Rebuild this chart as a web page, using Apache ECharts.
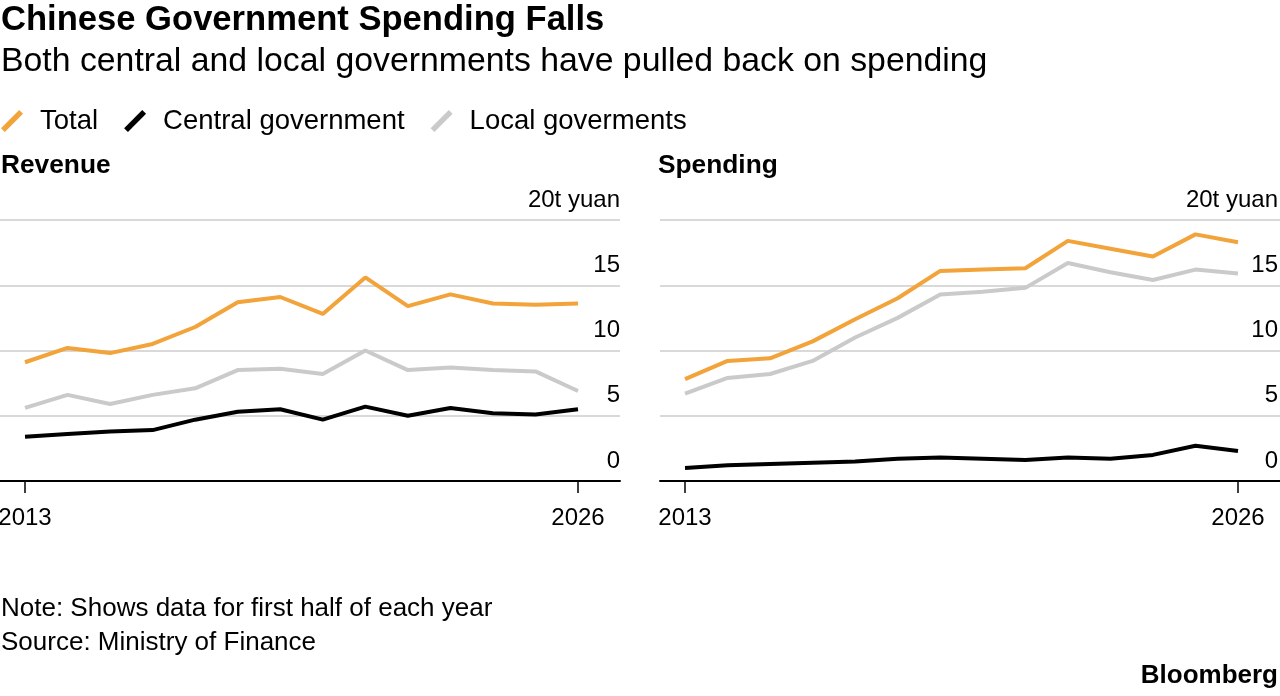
<!DOCTYPE html>
<html>
<head>
<meta charset="utf-8">
<title>Chinese Government Spending Falls</title>
<script src="https://cdn.jsdelivr.net/npm/echarts@6/dist/echarts.min.js"></script>
<style>
  html, body { margin: 0; padding: 0; background: #fff; }
  #chart { width: 1280px; height: 696px; }
</style>
</head>
<body>
<div id="chart"></div>
<script>
// Years (first half of each year)
const years = [2013, 2014, 2015, 2016, 2017, 2018, 2019, 2020, 2021, 2022, 2023, 2024, 2025, 2026];

// Revenue, trillion yuan
const revenueTotal   = [9.1, 10.2, 9.8, 10.5, 11.8, 13.7, 14.1, 12.8, 15.6, 13.4, 14.3, 13.6, 13.5, 13.6];
const revenueCentral = [3.4, 3.6, 3.8, 3.9, 4.7, 5.3, 5.5, 4.7, 5.7, 5.0, 5.6, 5.2, 5.1, 5.5];
const revenueLocal   = [5.6, 6.6, 5.9, 6.6, 7.1, 8.5, 8.6, 8.2, 10.0, 8.5, 8.7, 8.5, 8.4, 6.9];

// Spending, trillion yuan
const spendingTotal   = [7.8, 9.2, 9.4, 10.7, 12.4, 14.0, 16.1, 16.2, 16.3, 18.4, 17.8, 17.2, 18.9, 18.3];
const spendingCentral = [1.0, 1.2, 1.3, 1.4, 1.5, 1.7, 1.8, 1.7, 1.6, 1.8, 1.7, 2.0, 2.7, 2.3];
const spendingLocal   = [6.7, 7.9, 8.2, 9.2, 11.0, 12.5, 14.3, 14.5, 14.8, 16.7, 16.0, 15.4, 16.2, 15.9];

const xLabelYears = [2013, 2026];

const ORANGE = '#f2a33a';
const BLACK = '#000000';
const GREY = '#cacaca';
const FONT = 'Liberation Sans';

// Pair up years with values for the value-type x axis
function pairs(values) {
    return years.map((y, i) => [y, values[i]]);
}

function makeXAxis(gridIndex) {
    return {
        type: 'value',
        gridIndex: gridIndex,
        min: 2012.412,
        max: 2026.987,
        splitLine: { show: false },
        axisLine: { show: true, onZero: false, lineStyle: { color: '#000', width: 2 } },
        axisTick: { show: true, customValues: xLabelYears, length: 12, lineStyle: { color: '#000', width: 1.5 } },
        axisLabel: {
            customValues: xLabelYears,
            margin: 25,
            color: '#000',
            fontFamily: FONT,
            fontSize: 24,
            formatter: v => String(v)
        }
    };
}

function makeYAxis(gridIndex, margin) {
    return {
        type: 'value',
        gridIndex: gridIndex,
        position: 'right',
        min: 0,
        max: 20,
        interval: 5,
        axisLine: { show: false },
        axisTick: { show: false },
        splitLine: { show: true, lineStyle: { color: '#cccccc', width: 1.5 } },
        axisLabel: {
            inside: true,
            margin: margin,
            verticalAlign: 'bottom',
            padding: [0, 0, 8, 0],
            color: '#000',
            fontFamily: FONT,
            fontSize: 24,
            formatter: v => (v === 20 ? '20t yuan' : String(v))
        }
    };
}

function makeSeries(name, values, color, idx) {
    return {
        name: name,
        type: 'line',
        xAxisIndex: idx,
        yAxisIndex: idx,
        data: pairs(values),
        showSymbol: false,
        symbol: 'none',
        lineStyle: { color: color, width: 4 },
        itemStyle: { color: color },
        emphasis: { disabled: true },
        animation: false
    };
}

function heading(text, left, top, size, bold) {
    return {
        text: text, left: left, top: top, padding: 0,
        textStyle: { fontFamily: FONT, fontSize: size, fontWeight: bold ? 'bold' : 'normal', color: '#000', lineHeight: size }
    };
}

const chart = echarts.init(document.getElementById('chart'));

chart.setOption({
    backgroundColor: '#fff',
    animation: false,
    textStyle: { fontFamily: FONT },
    title: [
        heading('Chinese Government Spending Falls', 1, 3, 34.6, true),
        heading('Both central and local governments have pulled back on spending', 1, 45, 33.8, false),
        heading('Revenue', 1, 153, 26.3, true),
        heading('Spending', 658, 153, 26.3, true),
        heading('Note: Shows data for first half of each year', 1, 596, 26, false),
        heading('Source: Ministry of Finance', 1, 630, 26, false),
        Object.assign(heading('Bloomberg', 0, 663, 26, true), { left: null, right: 2 })
    ],
    legend: {
        left: 1,
        top: 107,
        padding: 0,
        itemGap: 26,
        itemWidth: 22,
        itemHeight: 25,
        icon: 'path://M0,16.5 L16.5,0 L20,3.5 L3.5,20 Z',
        itemStyle: { borderWidth: 0 },
        selectedMode: false,
        data: ['Total', 'Central government', 'Local goverments'],
        textStyle: { fontFamily: FONT, fontSize: 27.5, color: '#000', padding: [0, 0, 0, 12] }
    },
    grid: [
        { left: 0, top: 220, width: 620, height: 261, outerBoundsMode: 'none' },
        { left: 660, top: 220, width: 620, height: 261, outerBoundsMode: 'none' }
    ],
    xAxis: [makeXAxis(0), makeXAxis(1)],
    yAxis: [makeYAxis(0, 0), makeYAxis(1, 2)],
    series: [
        makeSeries('Local goverments', revenueLocal, GREY, 0),
        makeSeries('Central government', revenueCentral, BLACK, 0),
        makeSeries('Total', revenueTotal, ORANGE, 0),
        makeSeries('Local goverments', spendingLocal, GREY, 1),
        makeSeries('Central government', spendingCentral, BLACK, 1),
        makeSeries('Total', spendingTotal, ORANGE, 1)
    ]
});
</script>
</body>
</html>
